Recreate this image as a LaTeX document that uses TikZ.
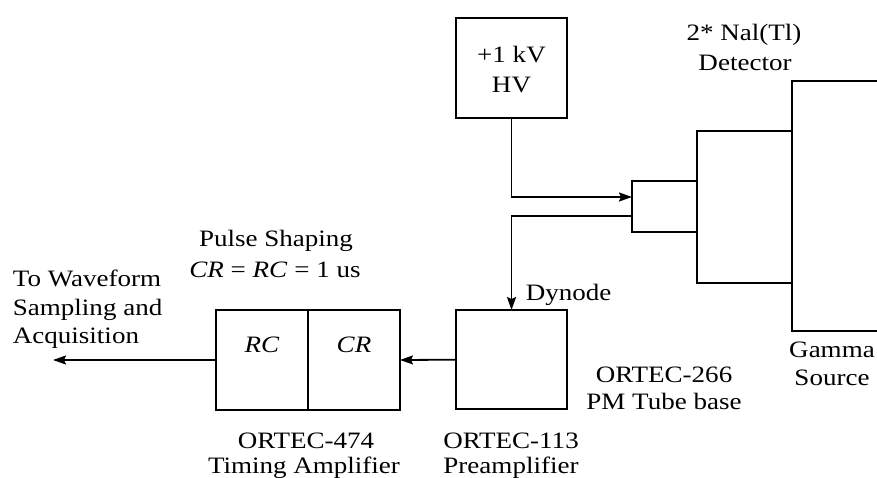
\documentclass[tikz,border=0pt]{standalone}
\usepackage{fontspec}
\setmainfont{Liberation Serif}[FakeStretch=1.15]
\usetikzlibrary{arrows.meta}
\begin{document}
\begin{tikzpicture}[x=1pt,y=-1pt,
  line width=1.8pt,
  box/.style={draw, inner sep=0pt, outer sep=0pt},
  lbl/.style={inner sep=0pt, anchor=base, font=\fontsize{23.5}{27}\selectfont},
  lblw/.style={lbl, anchor=base west},
  arr/.style={-{Stealth[length=13pt,width=9pt,inset=2pt]}}]
\useasboundingbox (0,0) rectangle (877,478);
% boxes
\node[box, minimum width=111.6pt, minimum height=100pt] (hv) at (511.5,68.3) {};
\node[box, minimum width=111.6pt, minimum height=99.3pt] (pre) at (511.5,359.7) {};
\node[box, minimum width=92pt, minimum height=100pt] (rc) at (262,360) {};
\node[box, minimum width=92pt, minimum height=100pt] (cr) at (354,360) {};
\node[box, minimum width=65pt, minimum height=51pt] (jb) at (664.5,206.5) {};
\node[box, minimum width=95pt, minimum height=152pt] (pmt) at (744.5,207) {};
% crystal (open to the right edge)
\coordinate (crt) at (877,81);
\coordinate (crb) at (877,331);
\draw (crt) -- (792,81) -- (792,331) -- (crb);
% connector points
\coordinate (hvin) at (632,197);
\coordinate (dyout) at (632,216);
\coordinate (out) at (53,360);
\draw[arr] (hv.south) |- (hvin);
\draw[arr] (dyout) -| (pre.north);
\draw[arr] (pre.west) -- (cr.east);
\draw[arr] (rc.west) -- (out);
% texts
\node[lbl] (hv1) at (511.5,62.5) {+1 kV};
\node[lbl] (hv2) at (511.5,92.3) {HV};
\node[lbl] (det1) at (744,41) {2* Nal(Tl)};
\node[lbl] (det2) at (745,71) {Detector};
\node[lbl] (gam1) at (832,357) {Gamma};
\node[lbl] (gam2) at (832,385) {Source};
\node[lbl] (pmt1) at (664,382) {ORTEC-266};
\node[lbl] (pmt2) at (664,409) {PM Tube base};
\node[lblw] (dyn) at (525,300) {Dynode};
\node[lbl] (ps1) at (276,247) {Pulse Shaping};
\node[lbl] (ps2) at (275,277) {\textit{CR} = \textit{RC} = 1 us};
\node[lblw] (tw1) at (12,286) {To Waveform};
\node[lblw] (tw2) at (12,315) {Sampling and};
\node[lblw] (tw3) at (12,343) {Acquisition};
\node[lbl] (rct) at (262,352) {\textit{RC}};
\node[lbl] (crtx) at (354,352) {\textit{CR}};
\node[lbl] (a1) at (306,448) {ORTEC-474};
\node[lbl] (a2) at (304,473) {Timing Amplifier};
\node[lbl] (p1) at (511,448) {ORTEC-113};
\node[lbl] (p2) at (511,473) {Preamplifier};
\end{tikzpicture}
\end{document}
